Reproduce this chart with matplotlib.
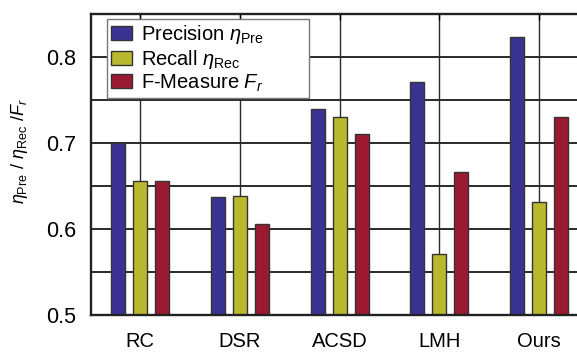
import matplotlib
matplotlib.use("Agg")
import matplotlib.pyplot as plt
import numpy as np

## Global style
plt.rcParams["font.family"] = "Liberation Sans"
plt.rcParams["mathtext.fontset"] = "custom"
plt.rcParams["mathtext.rm"] = "Liberation Sans"
plt.rcParams["mathtext.it"] = "Liberation Sans:italic"

## Data
methods = ["RC", "DSR", "ACSD", "LMH", "Ours"]
precision = [0.700, 0.637, 0.740, 0.771, 0.823]
recall = [0.656, 0.639, 0.730, 0.571, 0.631]
fmeasure = [0.656, 0.606, 0.710, 0.666, 0.730]

series = [
    (precision, "#3b3393", r"Precision $\eta_{\mathrm{Pre}}$"),
    (recall, "#b9b92f", r"Recall $\eta_{\mathrm{Rec}}$"),
    (fmeasure, "#9c1a31", r"F-Measure $F_r$"),
]

fig = plt.figure(figsize=(5.77, 3.52), dpi=100)
ax = fig.add_axes([0.158, 0.105, 0.842, 0.855])

x = np.arange(len(methods))
width = 0.14
offsets = [-0.22, 0.0, 0.22]

for (vals, col, lab), off in zip(series, offsets):
    ax.bar(x + off, vals, width, color=col, edgecolor="#333333",
           linewidth=1.0, label=lab, zorder=2)

ax.set_ylim(0.5, 0.85)
ax.set_xlim(-0.49, 4.38)
ax.set_yticks([0.5, 0.6, 0.7, 0.8])
ax.set_yticks([0.55, 0.65, 0.75], minor=True)
ax.set_xticks(x)
ax.set_xticklabels(methods)

ax.set_axisbelow(True)
ax.grid(which="both", axis="y", color="#2a2a2a", linewidth=1.4)
ax.grid(which="major", axis="x", color="#2a2a2a", linewidth=1.0)

ax.tick_params(axis="x", direction="in", length=4, width=1.0, pad=12,
               labelsize=14.5, top=True)
ax.tick_params(axis="y", which="both", direction="in", length=0, pad=11,
               labelsize=15.5)

for s in ["left", "bottom", "top"]:
    ax.spines[s].set_linewidth(1.7)
    ax.spines[s].set_color("#222222")
ax.spines["right"].set_visible(False)

ax.set_ylabel(r"$\eta_{\mathrm{Pre}}$ / $\eta_{\mathrm{Rec}}$ /$F_r$",
              fontsize=13)
ax.yaxis.set_label_coords(-0.125, 0.545)

## legend box stretched to the width seen in the original
leg = ax.legend(loc="upper left", bbox_to_anchor=(0.033, 0.983, 0.415, 0.0),
                mode="expand", fontsize=14.5,
                frameon=True, fancybox=False, edgecolor="#777777",
                framealpha=1.0, handlelength=1.05, handleheight=0.7,
                handletextpad=0.45, labelspacing=0.08, borderpad=0.2,
                borderaxespad=0.0)
leg.get_frame().set_linewidth(1.0)
leg.set_zorder(5)

fig.savefig("out.png", dpi=100)
